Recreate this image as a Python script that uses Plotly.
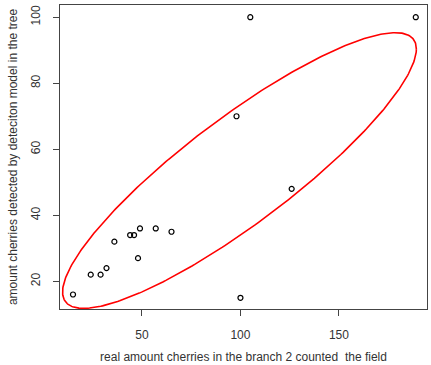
import numpy as np
import plotly.graph_objects as go

# data
real_counts = [15, 24, 29, 32, 36, 44, 46, 49, 48, 57, 65, 100, 126, 98, 105, 189]
detected = [16, 22, 22, 24, 32, 34, 34, 36, 27, 36, 35, 15, 48, 70, 100, 100]
x_ticks = [50, 100, 150]
y_ticks = [20, 40, 60, 80, 100]

x_title = "real amount cherries in the branch 2 counted\u00a0 the field"
y_title = "amount cherries detected by deteciton model in the tree"

# ellipse drawn on the chart (center and conjugate axis vectors in data units)
ell_center = (99.5, 53.55)
ell_axis1 = (89.8, 36.78)
ell_axis2 = (0.0, 19.78)

t = np.linspace(0, 2 * np.pi, 400)
ex = ell_center[0] + ell_axis1[0] * np.cos(t) + ell_axis2[0] * np.sin(t)
ey = ell_center[1] + ell_axis1[1] * np.cos(t) + ell_axis2[1] * np.sin(t)

fig = go.Figure()
fig.add_trace(go.Scatter(x=ex, y=ey, mode="lines",
                         line=dict(color="#ff0000", width=1.6),
                         hoverinfo="skip", showlegend=False))
fig.add_trace(go.Scatter(x=real_counts, y=detected, mode="markers",
                         marker=dict(symbol="circle-open", size=5,
                                     color="#000000", line=dict(width=1.2)),
                         showlegend=False))

font = dict(family="Liberation Sans, Arial, sans-serif", size=12, color="#333333")
fig.update_layout(
    width=431, height=365,
    margin=dict(l=60, r=3, t=5, b=53),
    paper_bgcolor="white", plot_bgcolor="white",
    font=font,
    xaxis=dict(range=[8.4, 194.7], tickvals=x_ticks, ticks="outside", ticklen=6,
               tickcolor="#444444", showline=True, linecolor="#444444", linewidth=1.3,
               mirror=True, showgrid=False, zeroline=False, ticklabelstandoff=8,
               title=dict(text=x_title, standoff=12, font=font)),
    yaxis=dict(range=[11.6, 103.7], tickvals=y_ticks, ticks="outside", ticklen=6,
               tickcolor="#444444", showline=True, linecolor="#444444", linewidth=1.3,
               mirror=True, showgrid=False, zeroline=False, tickangle=-90,
               ticklabelstandoff=8,
               title=dict(text=y_title, standoff=8, font=font)),
)
fig.write_html("out.html")
